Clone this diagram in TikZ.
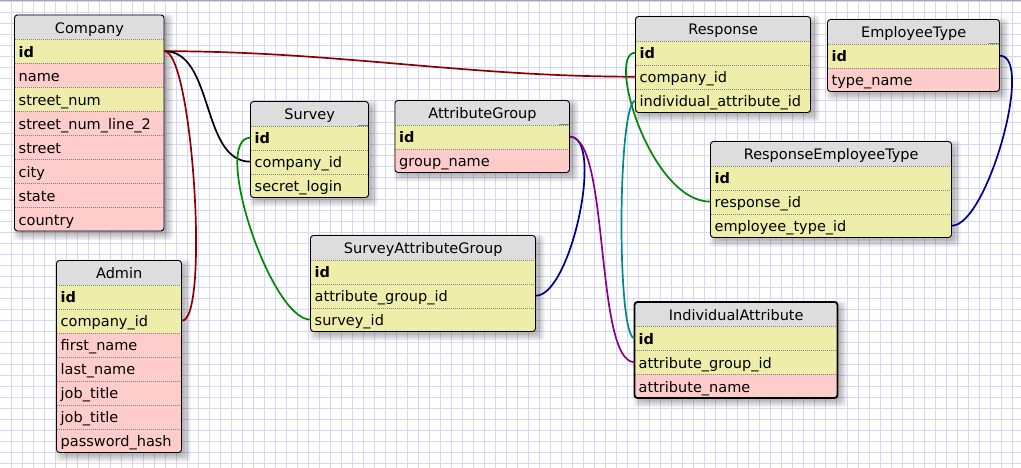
\documentclass[tikz,border=0pt]{standalone}
\usepackage{fontspec}
\setmainfont{DejaVu Sans}
\definecolor{gridc}{RGB}{214,214,246}
\definecolor{hdrc}{RGB}{221,221,221}
\definecolor{ykey}{RGB}{238,238,170}
\definecolor{pk}{RGB}{255,204,204}
\definecolor{conred}{RGB}{140,0,0}
\definecolor{congreen}{RGB}{0,136,0}
\definecolor{connavy}{RGB}{0,0,140}
\definecolor{conpurple}{RGB}{136,0,136}
\definecolor{conteal}{RGB}{0,136,136}
\definecolor{sepc}{RGB}{130,130,130}
\tikzset{
  gridline/.style={draw=gridc, line width=1pt},
  sepline/.style={draw=sepc, line width=0.8pt, dash pattern=on 1pt off 1pt},
  tfont/.style={font=\fontsize{14.5}{17}\selectfont},
  cellbase/.style={tfont, anchor=north west, rectangle, inner xsep=4pt, inner ysep=0pt,
    minimum height=24pt, text height=13.5pt, text depth=1.5pt},
  hdrst/.style={cellbase, fill=hdrc, align=center},
  rowst/.style={cellbase, align=left,
    path picture={\draw[sepline] ([yshift=-0.5pt]path picture bounding box.north west) -- ([yshift=-0.5pt]path picture bounding box.north east);}},
  frame/.style={draw=black, line width=0.9pt, rounded corners=3pt},
  frameB/.style={draw=black, line width=1.8pt, rounded corners=3pt},
  conn/.style={line width=1.7pt},
  keyseg/.style={draw=sepc, line width=1pt}
}
% shadow: x y w h
\newcommand\shd[4]{%
  \foreach \e in {-1,1,3,5}{%
    \fill[black, opacity=0.075, rounded corners=4pt]
      (#1+4-\e,#2+4-\e) rectangle (#1+#3+4+\e,#2+#4+4+\e);}%
}
% header: name x y textwidth title
\newcommand\thdr[5]{\node[hdrst, text width=#4pt] (#1) at (#2,#3) {#5};}
% row: name fill x y textwidth text
\newcommand\trow[6]{\node[rowst, fill=#2, text width=#5pt] (#1) at (#3,#4) {#6};}

\begin{document}
\begin{tikzpicture}[x=1pt,y=-1pt]
\fill[white] (0,0) rectangle (1021,468);
\useasboundingbox (0,0) rectangle (1021,468);
% grid
\foreach \i in {1,...,92} \draw[gridline] (\i*11,0) -- (\i*11,468);
\foreach \j in {0,...,42} \draw[gridline] (0,1.5+\j*11) -- (1021,1.5+\j*11);
\fill[gray!70] (0,0) rectangle (1021,1.5);

% shadows
\shd{14.5}{15}{149.5}{216}
\shd{56.5}{260.5}{125}{192}
\shd{250.5}{101.5}{118}{96}
\shd{395}{100.5}{174.5}{72}
\shd{310.5}{235.5}{225}{96}
\shd{635.5}{16.5}{175}{96}
\shd{827.5}{19.5}{172}{72}
\shd{710.5}{141.5}{241}{96}
\shd{634.5}{302}{203}{96}

% Company
\begin{scope}
\clip[rounded corners=3pt] (14.5,15) rectangle ++(149.5,216);
\thdr{company}{14.5}{15}{141.5}{Company}
\trow{company-id}{ykey}{14.5}{39}{141.5}{\textbf{id}}
\trow{company-name}{pk}{14.5}{63}{141.5}{name}
\trow{company-snum}{ykey}{14.5}{87}{141.5}{street\_num}
\trow{company-snum2}{pk}{14.5}{111}{141.5}{street\_num\_line\_2}
\trow{company-street}{pk}{14.5}{135}{141.5}{street}
\trow{company-city}{pk}{14.5}{159}{141.5}{city}
\trow{company-state}{pk}{14.5}{183}{141.5}{state}
\trow{company-country}{pk}{14.5}{207}{141.5}{country}
\end{scope}
\draw[frame] (14.5,15) rectangle ++(149.5,216);

% Admin
\begin{scope}
\clip[rounded corners=3pt] (56.5,260.5) rectangle ++(125,192);
\thdr{admin}{56.5}{260.5}{117}{Admin}
\trow{admin-id}{ykey}{56.5}{284.5}{117}{\textbf{id}}
\trow{admin-cid}{ykey}{56.5}{308.5}{117}{company\_id}
\trow{admin-fn}{pk}{56.5}{332.5}{117}{first\_name}
\trow{admin-ln}{pk}{56.5}{356.5}{117}{last\_name}
\trow{admin-jt}{pk}{56.5}{380.5}{117}{job\_title}
\trow{admin-jt2}{pk}{56.5}{404.5}{117}{job\_title}
\trow{admin-pw}{pk}{56.5}{428.5}{117}{password\_hash}
\end{scope}
\draw[frame] (56.5,260.5) rectangle ++(125,192);

% Survey
\begin{scope}
\clip[rounded corners=3pt] (250.5,101.5) rectangle ++(118,96);
\thdr{survey}{250.5}{101.5}{110}{Survey}
\trow{survey-id}{ykey}{250.5}{125.5}{110}{\textbf{id}}
\trow{survey-cid}{ykey}{250.5}{149.5}{110}{company\_id}
\trow{survey-sl}{ykey}{250.5}{173.5}{110}{secret\_login}
\end{scope}
\draw[keyseg] ([xshift=-11pt]survey.south east) -- (survey.south east);
\draw[frame] (250.5,101.5) rectangle ++(118,96);

% AttributeGroup
\begin{scope}
\clip[rounded corners=3pt] (395,100.5) rectangle ++(174.5,72);
\thdr{ag}{395}{100.5}{166.5}{AttributeGroup}
\trow{ag-id}{ykey}{395}{124.5}{166.5}{\textbf{id}}
\trow{ag-gn}{pk}{395}{148.5}{166.5}{group\_name}
\end{scope}
\draw[keyseg] ([xshift=-11pt]ag.south east) -- (ag.south east);
\draw[frame] (395,100.5) rectangle ++(174.5,72);

% SurveyAttributeGroup
\begin{scope}
\clip[rounded corners=3pt] (310.5,235.5) rectangle ++(225,96);
\thdr{sag}{310.5}{235.5}{217}{SurveyAttributeGroup}
\trow{sag-id}{ykey}{310.5}{259.5}{217}{\textbf{id}}
\trow{sag-agid}{ykey}{310.5}{283.5}{217}{attribute\_group\_id}
\trow{sag-sid}{ykey}{310.5}{307.5}{217}{survey\_id}
\end{scope}
\draw[frame] (310.5,235.5) rectangle ++(225,96);

% Response
\begin{scope}
\clip[rounded corners=3pt] (635.5,16.5) rectangle ++(175,96);
\thdr{response}{635.5}{16.5}{167}{Response}
\trow{response-id}{ykey}{635.5}{40.5}{167}{\textbf{id}}
\trow{response-cid}{ykey}{635.5}{64.5}{167}{company\_id}
\trow{response-iaid}{ykey}{635.5}{88.5}{167}{individual\_attribute\_id}
\end{scope}
\draw[frame] (635.5,16.5) rectangle ++(175,96);

% EmployeeType
\begin{scope}
\clip[rounded corners=3pt] (827.5,19.5) rectangle ++(172,72);
\thdr{et}{827.5}{19.5}{164}{EmployeeType}
\trow{et-id}{ykey}{827.5}{43.5}{164}{\textbf{id}}
\trow{et-tn}{pk}{827.5}{67.5}{164}{type\_name}
\end{scope}
\draw[keyseg] ([xshift=-11pt]et.south east) -- (et.south east);
\draw[frame] (827.5,19.5) rectangle ++(172,72);

% ResponseEmployeeType
\begin{scope}
\clip[rounded corners=3pt] (710.5,141.5) rectangle ++(241,96);
\thdr{ret}{710.5}{141.5}{233}{ResponseEmployeeType}
\trow{ret-id}{ykey}{710.5}{165.5}{233}{\textbf{id}}
\trow{ret-rid}{ykey}{710.5}{189.5}{233}{response\_id}
\trow{ret-etid}{ykey}{710.5}{213.5}{233}{employee\_type\_id}
\end{scope}
\draw[frame] (710.5,141.5) rectangle ++(241,96);

% IndividualAttribute
\begin{scope}
\clip[rounded corners=3pt] (634.5,302) rectangle ++(203,96);
\thdr{ia}{634.5}{302}{195}{IndividualAttribute}
\trow{ia-id}{ykey}{634.5}{326}{195}{\textbf{id}}
\trow{ia-agid}{ykey}{634.5}{350}{195}{attribute\_group\_id}
\trow{ia-an}{pk}{634.5}{374}{195}{attribute\_name}
\end{scope}
\draw[frameB] (634.5,302) rectangle ++(203,96);

% connectors
\draw[conn, conred] (company-id.east) .. controls +(170,0) and +(-170,0) .. (response-cid.west);
\draw[conn, black] (company-id.east) .. controls +(50,0) and +(-50,0) .. (survey-cid.west);
\draw[conn, conred] (company-id.east) .. controls +(28,0) and +(28,0) .. (admin-cid.east);
\draw[conn, congreen] (survey-id.west) .. controls +(-40,0) and +(-40,0) .. (sag-sid.west);
\draw[conn, connavy] (ag-id.east) .. controls +(35,0) and +(35,0) .. (sag-agid.east);
\draw[conn, conpurple] (ag-id.east) .. controls +(40,0) and +(-40,0) .. (ia-agid.west);
\draw[conn, congreen] (response-id.west) .. controls +(-30,0) and +(-60,0) .. (ret-rid.west);
\draw[conn, conteal] (response-iaid.west) .. controls +(-18,0) and +(-18,0) .. (ia-id.west);
\draw[conn, connavy] (et-id.east) .. controls +(35,0) and +(35,0) .. (ret-etid.east);
\end{tikzpicture}
\end{document}
